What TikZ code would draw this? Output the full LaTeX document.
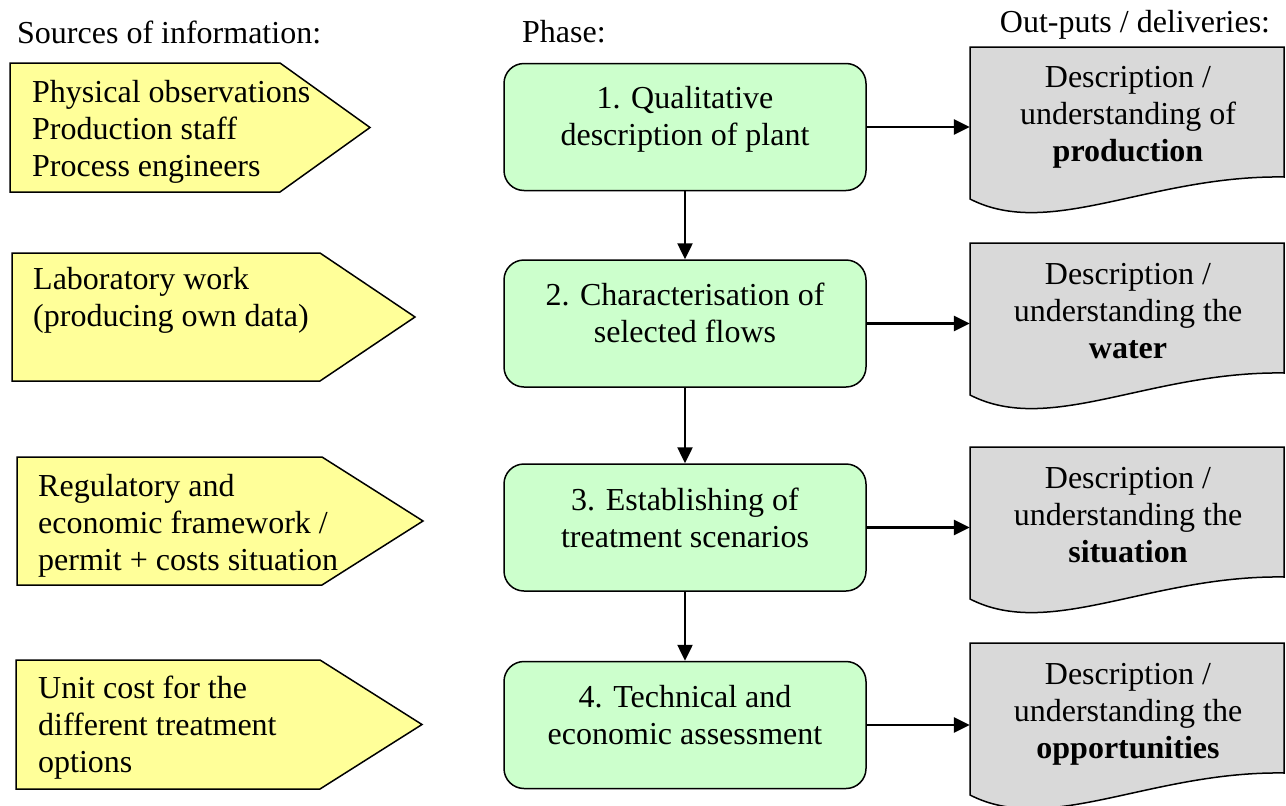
\documentclass[tikz,border=0pt]{standalone}
\usepackage{fontspec}
\setmainfont{Liberation Serif}
\usetikzlibrary{arrows.meta,calc}
\definecolor{srcyellow}{RGB}{255,255,153}
\definecolor{phgreen}{RGB}{204,255,204}
\definecolor{docgrey}{RGB}{217,217,217}
\tikzset{
  txt/.style={font=\fontsize{32}{37}\selectfont, inner sep=0pt},
  srcbox/.style={draw=black, fill=srcyellow, line width=1.5pt, line join=miter},
  srctext/.style={txt, anchor=west, align=left},
  phasebox/.style={draw=black, fill=phgreen, line width=1.5pt, rounded corners=20pt, minimum width=362pt, minimum height=127pt, inner sep=0pt},
  phasetext/.style={txt, align=center},
  docarea/.style={minimum width=314pt, minimum height=152pt, inner sep=0pt},
  docbox/.style={draw=black, fill=docgrey, line width=1.5pt},
  doctext/.style={txt, align=center},
  arr/.style={line width=2.5pt, -{Triangle[length=16pt,width=15pt]}},
}
\begin{document}
\begin{tikzpicture}[x=1pt,y=-1pt]
\useasboundingbox (0,0) rectangle (1286,806);

% headers
\node[txt, anchor=west] (h1) at (17,32) {Sources of information:};
\node[txt, anchor=west] (h2) at (522,32) {Phase:};
\node[txt] (h3) at (1135,25) {Out-puts / deliveries:};

% source pentagons
\draw[srcbox] (10,63) -- (280,63) -- (370,127.5) -- (280,192) -- (10,192) -- cycle;
\node[srctext] (s1) at (32,132) {Physical observations\\Production staff\\Process engineers};
\draw[srcbox] (12,253) -- (320,253) -- (415,317) -- (320,381) -- (12,381) -- cycle;
\node[srctext] (s2) at (33,300) {Laboratory work\\(producing own data)};
\draw[srcbox] (17,457) -- (322,457) -- (423,521) -- (322,585) -- (17,585) -- cycle;
\node[srctext] (s3) at (38,526) {Regulatory and\\economic framework /\\permit + costs situation};
\draw[srcbox] (16,660) -- (320,660) -- (422,724.5) -- (320,789) -- (16,789) -- cycle;
\node[srctext] (s4) at (38,728) {Unit cost for the\\different treatment\\options};

% phase boxes
\node[phasebox] (p1) at (685,127) {};
\node[phasetext] (p1t) at (685,119) {1. Qualitative\\description of plant};
\node[phasebox] (p2) at (685,323.5) {};
\node[phasetext] (p2t) at (685,313) {2. Characterisation of\\selected flows};
\node[phasebox] (p3) at (685,527.5) {};
\node[phasetext] (p3t) at (685,518) {3. Establishing of\\treatment scenarios};
\node[phasebox] (p4) at (685,725) {};
\node[phasetext] (p4t) at (685,715) {4. Technical and\\economic assessment};

\draw[arr] (p1.south) -- (p2.north);
\draw[arr] (p2.south) -- (p3.north);
\draw[arr] (p3.south) -- (p4.north);

% document shapes
\foreach \t/\n in {47/d1,243/d2,447/d3,643/d4}{
  \draw[docbox] (970,{\t+152}) -- (970,\t) -- (1284,\t) -- (1284,{\t+130})
    .. controls (1150,{\t+128}) and (1050,{\t+193}) .. (970,{\t+152}) -- cycle;
  \node[docarea] (\n) at (1127,{\t+76}) {};
}
\node[doctext] (d1t) at (1128,117) {Description /\\understanding of\\\textbf{production}};
\node[doctext] (d2t) at (1128,311) {Description /\\understanding the\\\textbf{water}};
\node[doctext] (d3t) at (1128,515) {Description /\\understanding the\\\textbf{situation}};
\node[doctext] (d4t) at (1128,714) {Description /\\understanding the\\\textbf{opportunities}};

\draw[arr] (p1.east) -- (p1.east -| d1.west);
\draw[arr] (p2.east) -- (p2.east -| d2.west);
\draw[arr] (p3.east) -- (p3.east -| d3.west);
\draw[arr] (p4.east) -- (p4.east -| d4.west);
\end{tikzpicture}
\end{document}
